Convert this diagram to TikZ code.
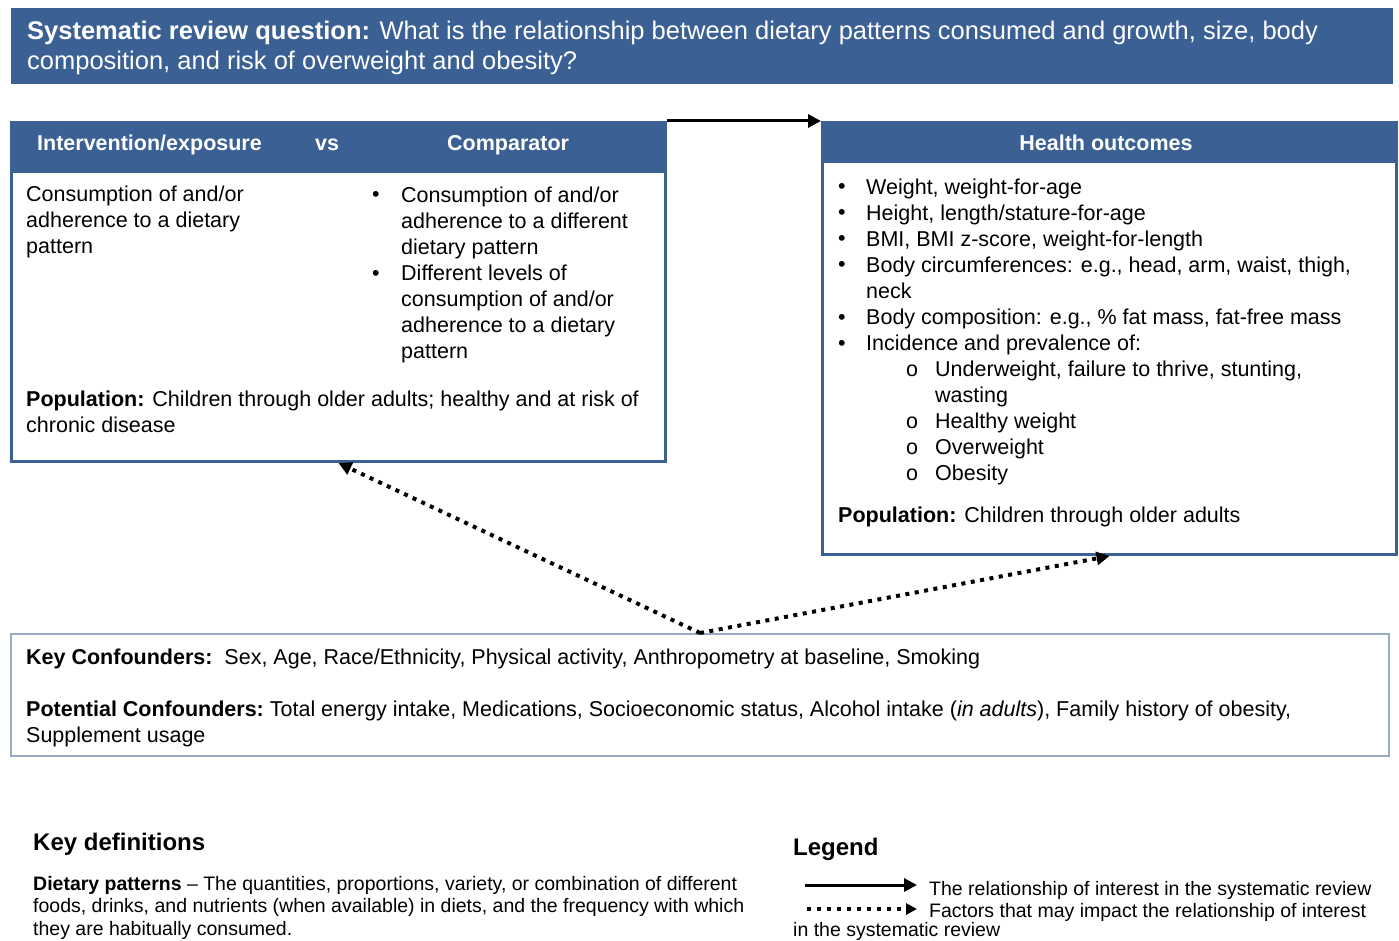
\documentclass[tikz,border=0pt]{standalone}
\usepackage{fontspec}
\setmainfont{Liberation Sans}
\usetikzlibrary{arrows.meta}
\usetikzlibrary{positioning}
\definecolor{hdrblue}{RGB}{59,96,148}
\definecolor{cfline}{RGB}{152,170,196}
\tikzset{
  hdrband/.style={fill=hdrblue,draw=none,anchor=north west,inner sep=0},
  outbox/.style={draw=hdrblue,line width=3pt,anchor=north west,inner sep=0},
  cfbox/.style={draw=cfline,line width=2pt,anchor=north west,inner sep=0},
  qtext/.style={font=\fontsize{25.5}{30}\selectfont,text=white,align=left,anchor=base west,inner sep=0},
  headtext/.style={font=\bfseries\fontsize{21.5}{26}\selectfont,text=white,anchor=base west,inner sep=0},
  bodytext/.style={font=\fontsize{21.5}{26}\selectfont,align=left,anchor=base west,inner sep=0},
  deftext/.style={font=\fontsize{19.5}{22.5}\selectfont,align=left,anchor=base west,inner sep=0},
  titletext/.style={font=\bfseries\fontsize{24}{28}\selectfont,anchor=base west,inner sep=0},
  solidarrow/.style={line width=3pt,-{Triangle[length=13pt,width=13pt]}},
  dotarrow/.style={line width=4pt,dash pattern=on 4pt off 5.5pt,-{Triangle[length=13pt,width=13pt]}},
  legdot/.style={line width=3.5pt,dash pattern=on 4pt off 6pt,-{Triangle[length=11pt,width=11pt]}}
}
\begin{document}
\begin{tikzpicture}[x=1pt,y=-1pt]
                \useasboundingbox (0,0) rectangle (1399,941);

                \node[hdrband,minimum width=1382,minimum height=76] (RQ) at (11,8) {};
                \node[qtext] (RQtxt) at (27,70) {\textbf{Systematic review question:} What is the relationship between dietary patterns consumed and growth, size, body\\composition, and risk of overweight and obesity?};

                \node[outbox,minimum width=654,minimum height=339] (IE) at (10,121) {};
                \node[hdrband,minimum width=654,minimum height=52] (IEhead) at (10,121) {};
                \node[headtext] (IEt) at (37,151) {Intervention/exposure};
                \node[headtext] (VSt) at (315,151) {vs};
                \node[headtext] (CMt) at (447,151) {Comparator};

                \node[bodytext] (IEbody) at (26,254) {Consumption of and/or\\adherence to a dietary\\pattern};
                \node[bodytext] (CMb1) at (372,202) {•};
                \node[bodytext] (CMb2) at (372,280) {•};
                \node[bodytext] (CMbody) at (401,358) {Consumption of and/or\\adherence to a different\\dietary pattern\\Different levels of\\consumption of and/or\\adherence to a dietary\\pattern};
                \node[bodytext] (IEpop) at (26,432) {\textbf{Population:} Children through older adults; healthy and at risk of\\chronic disease};

                \node[outbox,minimum width=574,minimum height=432] (HO) at (821,121) {};
                \node[hdrband,minimum width=574,minimum height=42] (HOhead) at (821,121) {};
                \node[headtext,anchor=base] (HOt) at (1106,151) {Health outcomes};

                \foreach \y/\n in {194/1,220/2,246/3,272/4,324/5,350/6}
                    \node[bodytext] (HOb\n) at (838,\y) {•};
                \node[bodytext] (HObody) at (866,350) {Weight, weight-for-age\\Height, length/stature-for-age\\BMI, BMI z-score, weight-for-length\\Body circumferences: e.g., head, arm, waist, thigh,\\neck\\Body composition: e.g., \% fat mass, fat-free mass\\Incidence and prevalence of:};
                \foreach \y/\n in {376/1,428/2,454/3,480/4}
                    \node[bodytext] (HOs\n) at (906,\y) {o};
                \node[bodytext] (HOsub) at (935,480) {Underweight, failure to thrive, stunting,\\wasting\\Healthy weight\\Overweight\\Obesity};
                \node[bodytext] (HOpop) at (838,522) {\textbf{Population:} Children through older adults};

                \node[cfbox,minimum width=1378,minimum height=122] (CF) at (10,633) {};
                \node[bodytext] (CFkey) at (26,664) {\textbf{Key Confounders:}\ \ Sex, Age, Race/Ethnicity, Physical activity, Anthropometry at baseline, Smoking};
                \node[bodytext] (CFpot) at (26,742) {\textbf{Potential Confounders:}\ Total energy intake, Medications, Socioeconomic status, Alcohol intake (\textit{in adults}), Family history of obesity,\\Supplement usage};

                \draw[solidarrow] (IE.north east) -- (HO.north west);
                \draw[dotarrow] (CF.north) -- (IE.south);
                \draw[dotarrow] (CF.north) -- (HO.south);

                \node[titletext] (KD) at (33,850) {Key definitions};
                \node[deftext] (KDtxt) at (33,935) {\textbf{Dietary patterns} -- The quantities, proportions, variety, or combination of different\\foods, drinks, and nutrients (when available) in diets, and the frequency with which\\they are habitually consumed.};

                \node[titletext] (LG) at (793,855) {Legend};
                \coordinate (S1) at (805,885);
                \coordinate (S2) at (917,885);
                \coordinate (D1) at (807,909);
                \coordinate (D2) at (917,909);
                \draw[solidarrow] (S1) -- (S2);
                \draw[legdot] (D1) -- (D2);
                \node[deftext] (LGs) at (929,895) {The relationship of interest in the systematic review};
                \node[deftext] (LGd) at (929,917) {Factors that may impact the relationship of interest};
                \node[deftext] (LGd2) at (793,936) {in the systematic review};
\end{tikzpicture}
\end{document}
